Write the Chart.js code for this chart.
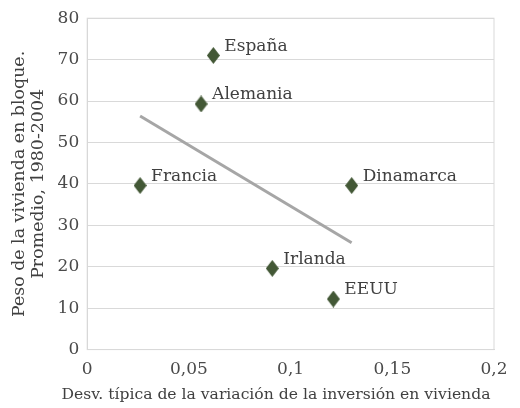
<!DOCTYPE html>
<html>
<head>
<meta charset="utf-8">
<script src="https://cdn.jsdelivr.net/npm/chart.js@4.4.1/dist/chart.umd.min.js"></script>
<style>
  html, body { margin: 0; padding: 0; background: #fff; }
  #wrap { width: 520px; height: 408px; }
</style>
</head>
<body>
<div id="wrap"><canvas id="chart"></canvas></div>
<script>
// datos
const paises = ['España', 'Alemania', 'Francia', 'Dinamarca', 'Irlanda', 'EEUU'];
const desvInversion = [0.062, 0.056, 0.026, 0.130, 0.091, 0.121];
const pesoBloque = [71, 59.3, 39.6, 39.6, 19.6, 12.2];

const tituloX = 'Desv. típica de la variación de la inversión en vivienda';
const tituloY = ['Peso de la vivienda en bloque.', 'Promedio, 1980-2004'];

const serif = "'DejaVu Serif', serif";

// recta de tendencia lineal (minimos cuadrados)
function tendencia(xs, ys) {
    const n = xs.length;
    const mx = xs.reduce((a, b) => a + b, 0) / n;
    const my = ys.reduce((a, b) => a + b, 0) / n;
    let sxy = 0, sxx = 0;
    for (let i = 0; i < n; i++) {
        sxy += (xs[i] - mx) * (ys[i] - my);
        sxx += (xs[i] - mx) * (xs[i] - mx);
    }
    const b = sxy / sxx, a = my - b * mx;
    const x0 = Math.min(...xs), x1 = Math.max(...xs);
    return [{ x: x0, y: a + b * x0 }, { x: x1, y: a + b * x1 }];
}

// rombo algo mas alto que ancho
const rombo = document.createElement('canvas');
rombo.width = 13; rombo.height = 17;
(function () {
    const c = rombo.getContext('2d');
    c.fillStyle = '#435836';
    c.beginPath();
    c.moveTo(6.5, 0); c.lineTo(13, 8.5); c.lineTo(6.5, 17); c.lineTo(0, 8.5);
    c.closePath(); c.fill();
})();

const puntos = paises.map((p, i) => ({ x: desvInversion[i], y: pesoBloque[i] }));

const etiquetas = {
    id: 'etiquetas',
    afterDatasetsDraw(chart) {
        const ctx = chart.ctx;
        const meta = chart.getDatasetMeta(1);
        ctx.save();
        ctx.font = '17px ' + serif;
        ctx.fillStyle = '#404040';
        ctx.textBaseline = 'middle';
        meta.data.forEach((el, i) => {
            ctx.fillText(paises[i], el.x + 11, el.y - 9);
        });
        ctx.restore();
    }
};

// titulo del eje X dibujado aparte: chart.js lo comprime al ancho del area
const tituloAbajo = {
    id: 'tituloAbajo',
    afterDraw(chart) {
        const ctx = chart.ctx;
        ctx.save();
        ctx.font = '15.6px ' + serif;
        ctx.fillStyle = '#404040';
        ctx.textAlign = 'center';
        ctx.textBaseline = 'middle';
        ctx.fillText(tituloX, chart.width / 2 + 16, chart.height - 13);
        ctx.restore();
    }
};

new Chart(document.getElementById('chart'), {
    type: 'scatter',
    data: {
        datasets: [{
            type: 'line',
            data: tendencia(desvInversion, pesoBloque),
            borderColor: '#a6a6a6',
            borderWidth: 3,
            pointRadius: 0,
            fill: false
        }, {
            data: puntos,
            pointStyle: rombo,
            pointRadius: 7
        }]
    },
    options: {
        responsive: true,
        maintainAspectRatio: false,
        animation: false,
        layout: { padding: { top: 4, right: 26, left: 10, bottom: 18 } },
        plugins: { legend: { display: false }, tooltip: { enabled: false } },
        scales: {
            x: {
                type: 'linear',
                min: 0, max: 0.2,
                ticks: {
                    stepSize: 0.05,
                    color: '#4a4a4a',
                    padding: 10,
                    font: { family: serif, size: 17 },
                    callback: v => String(Math.round(v * 100) / 100).replace('.', ',')
                },
                grid: { display: false, drawTicks: false },
                border: { color: '#d9d9d9' }
            },
            y: {
                min: 0, max: 80,
                ticks: {
                    stepSize: 10,
                    color: '#4a4a4a',
                    padding: 8,
                    font: { family: serif, size: 17 }
                },
                grid: { color: '#d9d9d9', drawTicks: false },
                border: { color: '#d9d9d9' },
                title: {
                    display: true,
                    text: tituloY,
                    color: '#404040',
                    font: { family: serif, size: 17.4, lineHeight: 1.08 },
                    padding: { top: 0, bottom: 2 }
                }
            }
        }
    },
    plugins: [etiquetas, tituloAbajo, {
        id: 'marco',
        afterDraw(chart) {
            const a = chart.chartArea, ctx = chart.ctx;
            ctx.save();
            ctx.strokeStyle = '#d9d9d9';
            ctx.lineWidth = 1;
            ctx.strokeRect(a.left, a.top, a.right - a.left, a.bottom - a.top);
            ctx.restore();
        }
    }]
});
</script>
</body>
</html>
